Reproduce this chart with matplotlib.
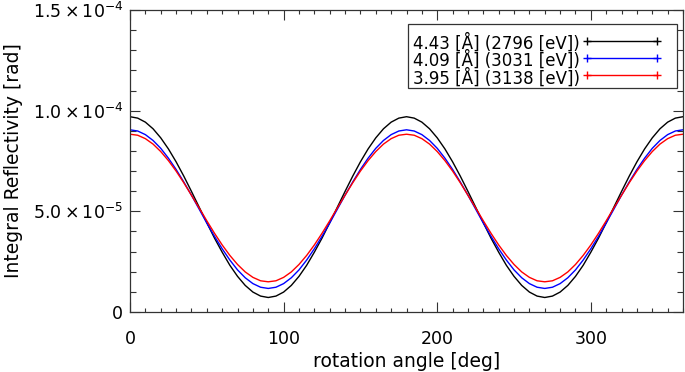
import matplotlib
matplotlib.use("Agg")
import matplotlib.pyplot as plt
from matplotlib.lines import Line2D
from matplotlib.patches import Rectangle
from matplotlib.ticker import MultipleLocator, FixedLocator

# values, every 5 deg, in units of 1e-5 rad
angle = list(range(0, 361, 5))

refl_443 = [9.70, 9.63, 9.43, 9.10, 8.65, 8.10, 7.46, 6.75, 5.99, 5.21, 4.43, 3.67, 2.97, 2.32, 1.77, 1.32, 0.99, 0.79, 0.72,
            0.79, 0.99, 1.32, 1.77, 2.32, 2.97, 3.67, 4.43, 5.21, 5.99, 6.75, 7.46, 8.10, 8.65, 9.10, 9.43, 9.63, 9.70,
            9.63, 9.43, 9.10, 8.65, 8.10, 7.46, 6.75, 5.99, 5.21, 4.43, 3.67, 2.97, 2.32, 1.77, 1.32, 0.99, 0.79, 0.72,
            0.79, 0.99, 1.32, 1.77, 2.32, 2.97, 3.67, 4.43, 5.21, 5.99, 6.75, 7.46, 8.10, 8.65, 9.10, 9.43, 9.63, 9.70]

refl_409 = [9.05, 8.99, 8.81, 8.52, 8.13, 7.64, 7.08, 6.46, 5.80, 5.11, 4.42, 3.76, 3.14, 2.58, 2.09, 1.70, 1.41, 1.23, 1.17,
            1.23, 1.41, 1.70, 2.09, 2.58, 3.14, 3.76, 4.42, 5.11, 5.80, 6.46, 7.08, 7.64, 8.13, 8.52, 8.81, 8.99, 9.05,
            8.99, 8.81, 8.52, 8.13, 7.64, 7.08, 6.46, 5.80, 5.11, 4.42, 3.76, 3.14, 2.58, 2.09, 1.70, 1.41, 1.23, 1.17,
            1.23, 1.41, 1.70, 2.09, 2.58, 3.14, 3.76, 4.42, 5.11, 5.80, 6.46, 7.08, 7.64, 8.13, 8.52, 8.81, 8.99, 9.05]

refl_395 = [8.83, 8.78, 8.61, 8.34, 7.97, 7.52, 7.00, 6.42, 5.80, 5.17, 4.53, 3.91, 3.33, 2.81, 2.36, 1.99, 1.72, 1.55, 1.50,
            1.55, 1.72, 1.99, 2.36, 2.81, 3.33, 3.91, 4.53, 5.17, 5.80, 6.42, 7.00, 7.52, 7.97, 8.34, 8.61, 8.78, 8.83,
            8.78, 8.61, 8.34, 7.97, 7.52, 7.00, 6.42, 5.80, 5.17, 4.53, 3.91, 3.33, 2.81, 2.36, 1.99, 1.72, 1.55, 1.50,
            1.55, 1.72, 1.99, 2.36, 2.81, 3.33, 3.91, 4.53, 5.17, 5.80, 6.42, 7.00, 7.52, 7.97, 8.34, 8.61, 8.78, 8.83]

series = [refl_443, refl_409, refl_395]
labels = ["4.43 [Å] (2796 [eV])", "4.09 [Å] (3031 [eV])", "3.95 [Å] (3138 [eV])"]
colors = ["black", "blue", "red"]

ytick_vals = [0, 5e-5, 1e-4, 1.5e-4]
ytick_labels = ["0", r"$5.0\times10^{-5}$", r"$1.0\times10^{-4}$", r"$1.5\times10^{-4}$"]

plt.rcParams["font.family"] = "DejaVu Sans"
plt.rcParams["mathtext.fontset"] = "dejavusans"
plt.rcParams["font.size"] = 12.5

fig = plt.figure(figsize=(6.85, 3.72), dpi=100)
ax = fig.add_axes([0.1898, 0.1613, 0.8073, 0.8118])

for vals, c in zip(series, colors):
    ax.plot(angle, [v * 1e-5 for v in vals], color=c, lw=1.0)

ax.set_xlim(0, 360)
ax.set_ylim(0, 1.5e-4)
ax.xaxis.set_major_locator(MultipleLocator(100))
ax.xaxis.set_minor_locator(MultipleLocator(10))
ax.yaxis.set_major_locator(FixedLocator(ytick_vals))
ax.yaxis.set_minor_locator(MultipleLocator(1e-5))
ax.set_yticklabels(ytick_labels)

ax.tick_params(which="both", direction="in", top=True, right=True, width=0.8, color="#333333")
ax.tick_params(which="major", length=7.2)
ax.tick_params(axis="x", which="major", pad=13)
ax.tick_params(axis="y", which="major", pad=5)
ax.tick_params(axis="x", which="minor", length=2.9)
ax.tick_params(axis="y", which="minor", length=4)
for sp in ax.spines.values():
    sp.set_linewidth(0.9)
    sp.set_color("#333333")

ax.set_xlabel("rotation angle [deg]", fontsize=13.5, labelpad=3)
ax.set_ylabel("Integral Reflectivity [rad]", fontsize=13.5, labelpad=7)

# legend box drawn by hand, IDL style: text left, line with + ends on the right
ax.add_patch(Rectangle((0.5027, 0.7417), 0.4865, 0.2119, transform=ax.transAxes,
                       facecolor="white", edgecolor="#333333", lw=0.9, zorder=5))
row_y = [0.8974, 0.8411, 0.7848]
ax.text(0.5118, 0.9225, "\n".join(labels), transform=ax.transAxes, fontsize=12,
        va="top", ha="left", linespacing=0.87, zorder=6)
for c, y in zip(colors, row_y):
    ax.add_line(Line2D([0.8264, 0.9530], [y, y], transform=ax.transAxes, color=c, lw=1.0,
                       marker="+", markersize=6, markeredgewidth=1.0, zorder=6))

fig.savefig("out.png", dpi=100)
